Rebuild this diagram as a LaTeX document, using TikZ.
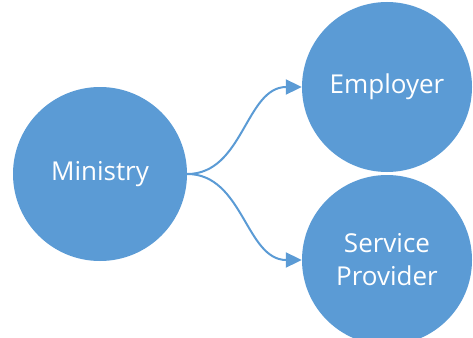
\documentclass[tikz,border=0pt]{standalone}
\usepackage{fontspec}
\setmainfont{Open Sans}
\usetikzlibrary{arrows.meta}
\definecolor{bubble}{HTML}{5B9BD5}

\begin{document}
\begin{tikzpicture}[x=1pt,y=-1pt,
    party/.style={circle, fill=bubble, inner sep=0pt, minimum size=170pt,
      text=white, font=\fontsize{26}{33}\selectfont, align=center},
    link/.style={draw=bubble, line width=2pt,
      -{Triangle[length=16pt,width=15pt]}, out=0, in=180}]
    \clip (0,0) rectangle (473,337);
    \node[party, minimum size=174pt] (min) at (100,174) {Ministry};
    \node[party] (emp) at (387,87) {Employer};
    \node[party] (srv) at (387,260) {Service\\Provider};
    \draw[link] (min.east) to (emp.west);
    \draw[link] (min.east) to (srv.west);
  \end{tikzpicture}
\end{document}
